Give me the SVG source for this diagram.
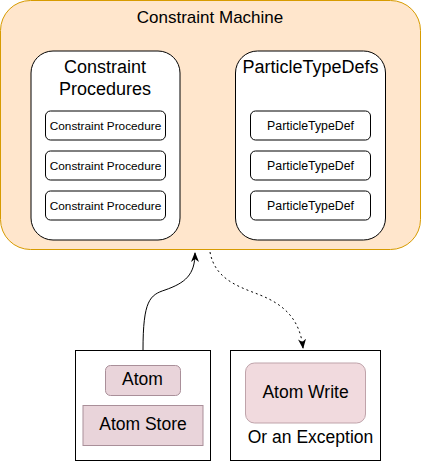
<svg xmlns="http://www.w3.org/2000/svg" width="421" height="461" viewBox="0 0 421 461">
<defs>
<style>
text{font-family:"Liberation Sans",Arial,Helvetica,sans-serif;fill:#000;text-anchor:middle}
.box{fill:#fff;stroke:#000;stroke-width:1}
.pink{fill:#e9d4da;stroke:#a98f99;stroke-width:1}
.edge{fill:none;stroke:#000;stroke-width:1}
</style>
<marker id="arr" viewBox="0 0 10 8" refX="9" refY="4" markerWidth="10" markerHeight="8" markerUnits="userSpaceOnUse" orient="auto">
<path d="M0,0 L10,4 L0,8 L3,4 z" fill="#000"/>
</marker>
</defs>
<g id="constraint-machine">
<rect x="0.5" y="0.5" width="420" height="249" rx="30" ry="30" fill="#ffe6cc" stroke="#d79b00"/>
<text x="210" y="23" font-size="17">Constraint Machine</text>
</g>
<g id="constraint-procedures">
<rect class="box" x="31" y="51" width="149" height="189" rx="22" ry="22"/>
<text x="105" y="73" font-size="18">Constraint</text>
<text x="105" y="95" font-size="18">Procedures</text>
</g>
<g id="cp1"><rect class="box" x="45.5" y="111" width="120" height="29" rx="5"/><text x="105.5" y="129.5" font-size="11.8">Constraint Procedure</text></g>
<g id="cp2"><rect class="box" x="45.5" y="151" width="120" height="29" rx="5"/><text x="105.5" y="169.5" font-size="11.8">Constraint Procedure</text></g>
<g id="cp3"><rect class="box" x="45.5" y="191" width="120" height="29" rx="5"/><text x="105.5" y="209.5" font-size="11.8">Constraint Procedure</text></g>
<g id="particle-type-defs">
<rect class="box" x="235.5" y="51" width="150" height="189" rx="22" ry="22"/>
<text x="310.5" y="73" font-size="18">ParticleTypeDefs</text>
</g>
<g id="ptd1"><rect class="box" x="250.5" y="111" width="120" height="29" rx="5"/><text x="310.5" y="129.5" font-size="12.3">ParticleTypeDef</text></g>
<g id="ptd2"><rect class="box" x="250.5" y="151" width="120" height="29" rx="5"/><text x="310.5" y="169.5" font-size="12.3">ParticleTypeDef</text></g>
<g id="ptd3"><rect class="box" x="250.5" y="191" width="120" height="29" rx="5"/><text x="310.5" y="209.5" font-size="12.3">ParticleTypeDef</text></g>
<g id="input">
<rect class="box" x="75.5" y="350.5" width="135" height="110"/>
</g>
<g id="atom"><rect class="pink" x="105.5" y="365.5" width="75" height="30" rx="5"/><text x="142.5" y="384.5" font-size="17.5">Atom</text></g>
<g id="atom-store"><rect class="pink" x="83" y="405.5" width="120" height="40"/><text x="143" y="429.5" font-size="17.5">Atom Store</text></g>
<g id="output">
<rect class="box" x="230.5" y="350.5" width="150" height="110"/>
<text x="310.5" y="443" font-size="17.5">Or an Exception</text>
</g>
<g id="atom-write"><rect x="245.5" y="363" width="120" height="60" rx="9" fill="#f1dade" stroke="#bfa3aa"/><text x="305.5" y="397.5" font-size="17.5">Atom Write</text></g>
<g id="connectors">
<path class="edge" d="M143,350 C143,300 150,295 165,290 C185,283 195,275 195,253" marker-end="url(#arr)"/>
<path class="edge" d="M210,252 C215,280 240,287 260,295 C285,305 300,320 303,348" stroke-dasharray="2,3" marker-end="url(#arr)"/>
</g>
</svg>
